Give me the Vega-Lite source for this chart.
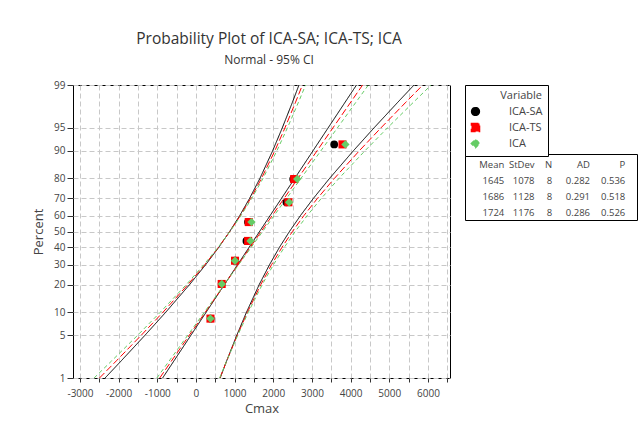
{
  "$schema": "https://vega.github.io/schema/vega-lite/v6.json",
  "autosize": {"type": "pad"},
  "padding": {"left": 32, "top": 32, "right": 0, "bottom": 0},
  "background": "white",
  "config": {
    "font": "Open Sans",
    "view": {"stroke": "black", "strokeWidth": 1},
    "axis": {"labelOverlap": false}
  },
  "title": {
    "text": "Probability Plot of ICA-SA; ICA-TS; ICA",
    "subtitle": "Normal - 95% CI",
    "anchor": "start",
    "align": "center",
    "frame": "group",
    "dx": 196,
    "offset": 14,
    "fontSize": 15.5,
    "fontWeight": "normal",
    "color": "#333333",
    "subtitleFontSize": 12,
    "subtitleColor": "#333333",
    "subtitlePadding": 7
  },
  "datasets": {
    "points": [
      {"Variable": "ICA-SA", "p": 8.33, "Cmax": 380},
      {"Variable": "ICA-SA", "p": 20.24, "Cmax": 665},
      {"Variable": "ICA-SA", "p": 32.14, "Cmax": 1015},
      {"Variable": "ICA-SA", "p": 44.05, "Cmax": 1305},
      {"Variable": "ICA-SA", "p": 55.95, "Cmax": 1345},
      {"Variable": "ICA-SA", "p": 67.86, "Cmax": 2340},
      {"Variable": "ICA-SA", "p": 79.76, "Cmax": 2515},
      {"Variable": "ICA-SA", "p": 91.67, "Cmax": 3575},
      {"Variable": "ICA-TS", "p": 8.33, "Cmax": 375},
      {"Variable": "ICA-TS", "p": 20.24, "Cmax": 665},
      {"Variable": "ICA-TS", "p": 32.14, "Cmax": 1010},
      {"Variable": "ICA-TS", "p": 44.05, "Cmax": 1350},
      {"Variable": "ICA-TS", "p": 55.95, "Cmax": 1365},
      {"Variable": "ICA-TS", "p": 67.86, "Cmax": 2390},
      {"Variable": "ICA-TS", "p": 79.76, "Cmax": 2540},
      {"Variable": "ICA-TS", "p": 91.67, "Cmax": 3790},
      {"Variable": "ICA", "p": 8.33, "Cmax": 375},
      {"Variable": "ICA", "p": 20.24, "Cmax": 670},
      {"Variable": "ICA", "p": 32.14, "Cmax": 1010},
      {"Variable": "ICA", "p": 44.05, "Cmax": 1410},
      {"Variable": "ICA", "p": 55.95, "Cmax": 1435},
      {"Variable": "ICA", "p": 67.86, "Cmax": 2410},
      {"Variable": "ICA", "p": 79.76, "Cmax": 2620},
      {"Variable": "ICA", "p": 91.67, "Cmax": 3865}
    ],
    "curves": [
      {"Variable": "ICA-SA", "part": "fit", "p": 1, "Cmax": -862},
      {"Variable": "ICA-SA", "part": "fit", "p": 99, "Cmax": 4152},
      {"Variable": "ICA-SA", "part": "lower", "p": 1, "Cmax": -2350},
      {"Variable": "ICA-SA", "part": "lower", "p": 2, "Cmax": -1932},
      {"Variable": "ICA-SA", "part": "lower", "p": 5, "Cmax": -1314},
      {"Variable": "ICA-SA", "part": "lower", "p": 10, "Cmax": -781},
      {"Variable": "ICA-SA", "part": "lower", "p": 20, "Cmax": -163},
      {"Variable": "ICA-SA", "part": "lower", "p": 30, "Cmax": 255},
      {"Variable": "ICA-SA", "part": "lower", "p": 40, "Cmax": 587},
      {"Variable": "ICA-SA", "part": "lower", "p": 50, "Cmax": 872},
      {"Variable": "ICA-SA", "part": "lower", "p": 60, "Cmax": 1133},
      {"Variable": "ICA-SA", "part": "lower", "p": 70, "Cmax": 1385},
      {"Variable": "ICA-SA", "part": "lower", "p": 80, "Cmax": 1653},
      {"Variable": "ICA-SA", "part": "lower", "p": 90, "Cmax": 1983},
      {"Variable": "ICA-SA", "part": "lower", "p": 95, "Cmax": 2232},
      {"Variable": "ICA-SA", "part": "lower", "p": 98, "Cmax": 2496},
      {"Variable": "ICA-SA", "part": "lower", "p": 99, "Cmax": 2664},
      {"Variable": "ICA-SA", "part": "upper", "p": 1, "Cmax": 626},
      {"Variable": "ICA-SA", "part": "upper", "p": 2, "Cmax": 794},
      {"Variable": "ICA-SA", "part": "upper", "p": 5, "Cmax": 1058},
      {"Variable": "ICA-SA", "part": "upper", "p": 10, "Cmax": 1307},
      {"Variable": "ICA-SA", "part": "upper", "p": 20, "Cmax": 1637},
      {"Variable": "ICA-SA", "part": "upper", "p": 30, "Cmax": 1905},
      {"Variable": "ICA-SA", "part": "upper", "p": 40, "Cmax": 2157},
      {"Variable": "ICA-SA", "part": "upper", "p": 50, "Cmax": 2418},
      {"Variable": "ICA-SA", "part": "upper", "p": 60, "Cmax": 2703},
      {"Variable": "ICA-SA", "part": "upper", "p": 70, "Cmax": 3035},
      {"Variable": "ICA-SA", "part": "upper", "p": 80, "Cmax": 3453},
      {"Variable": "ICA-SA", "part": "upper", "p": 90, "Cmax": 4071},
      {"Variable": "ICA-SA", "part": "upper", "p": 95, "Cmax": 4604},
      {"Variable": "ICA-SA", "part": "upper", "p": 98, "Cmax": 5222},
      {"Variable": "ICA-SA", "part": "upper", "p": 99, "Cmax": 5640},
      {"Variable": "ICA-TS", "part": "fit", "p": 1, "Cmax": -938},
      {"Variable": "ICA-TS", "part": "fit", "p": 99, "Cmax": 4310},
      {"Variable": "ICA-TS", "part": "lower", "p": 1, "Cmax": -2495},
      {"Variable": "ICA-TS", "part": "lower", "p": 2, "Cmax": -2058},
      {"Variable": "ICA-TS", "part": "lower", "p": 5, "Cmax": -1411},
      {"Variable": "ICA-TS", "part": "lower", "p": 10, "Cmax": -852},
      {"Variable": "ICA-TS", "part": "lower", "p": 20, "Cmax": -206},
      {"Variable": "ICA-TS", "part": "lower", "p": 30, "Cmax": 232},
      {"Variable": "ICA-TS", "part": "lower", "p": 40, "Cmax": 579},
      {"Variable": "ICA-TS", "part": "lower", "p": 50, "Cmax": 877},
      {"Variable": "ICA-TS", "part": "lower", "p": 60, "Cmax": 1149},
      {"Variable": "ICA-TS", "part": "lower", "p": 70, "Cmax": 1414},
      {"Variable": "ICA-TS", "part": "lower", "p": 80, "Cmax": 1694},
      {"Variable": "ICA-TS", "part": "lower", "p": 90, "Cmax": 2040},
      {"Variable": "ICA-TS", "part": "lower", "p": 95, "Cmax": 2301},
      {"Variable": "ICA-TS", "part": "lower", "p": 98, "Cmax": 2576},
      {"Variable": "ICA-TS", "part": "lower", "p": 99, "Cmax": 2753},
      {"Variable": "ICA-TS", "part": "upper", "p": 1, "Cmax": 619},
      {"Variable": "ICA-TS", "part": "upper", "p": 2, "Cmax": 796},
      {"Variable": "ICA-TS", "part": "upper", "p": 5, "Cmax": 1071},
      {"Variable": "ICA-TS", "part": "upper", "p": 10, "Cmax": 1332},
      {"Variable": "ICA-TS", "part": "upper", "p": 20, "Cmax": 1678},
      {"Variable": "ICA-TS", "part": "upper", "p": 30, "Cmax": 1958},
      {"Variable": "ICA-TS", "part": "upper", "p": 40, "Cmax": 2223},
      {"Variable": "ICA-TS", "part": "upper", "p": 50, "Cmax": 2495},
      {"Variable": "ICA-TS", "part": "upper", "p": 60, "Cmax": 2793},
      {"Variable": "ICA-TS", "part": "upper", "p": 70, "Cmax": 3140},
      {"Variable": "ICA-TS", "part": "upper", "p": 80, "Cmax": 3578},
      {"Variable": "ICA-TS", "part": "upper", "p": 90, "Cmax": 4224},
      {"Variable": "ICA-TS", "part": "upper", "p": 95, "Cmax": 4783},
      {"Variable": "ICA-TS", "part": "upper", "p": 98, "Cmax": 5430},
      {"Variable": "ICA-TS", "part": "upper", "p": 99, "Cmax": 5867},
      {"Variable": "ICA", "part": "fit", "p": 1, "Cmax": -1011},
      {"Variable": "ICA", "part": "fit", "p": 99, "Cmax": 4459},
      {"Variable": "ICA", "part": "lower", "p": 1, "Cmax": -2635},
      {"Variable": "ICA", "part": "lower", "p": 2, "Cmax": -2179},
      {"Variable": "ICA", "part": "lower", "p": 5, "Cmax": -1504},
      {"Variable": "ICA", "part": "lower", "p": 10, "Cmax": -922},
      {"Variable": "ICA", "part": "lower", "p": 20, "Cmax": -248},
      {"Variable": "ICA", "part": "lower", "p": 30, "Cmax": 208},
      {"Variable": "ICA", "part": "lower", "p": 40, "Cmax": 570},
      {"Variable": "ICA", "part": "lower", "p": 50, "Cmax": 881},
      {"Variable": "ICA", "part": "lower", "p": 60, "Cmax": 1165},
      {"Variable": "ICA", "part": "lower", "p": 70, "Cmax": 1441},
      {"Variable": "ICA", "part": "lower", "p": 80, "Cmax": 1733},
      {"Variable": "ICA", "part": "lower", "p": 90, "Cmax": 2093},
      {"Variable": "ICA", "part": "lower", "p": 95, "Cmax": 2365},
      {"Variable": "ICA", "part": "lower", "p": 98, "Cmax": 2652},
      {"Variable": "ICA", "part": "lower", "p": 99, "Cmax": 2836},
      {"Variable": "ICA", "part": "upper", "p": 1, "Cmax": 612},
      {"Variable": "ICA", "part": "upper", "p": 2, "Cmax": 796},
      {"Variable": "ICA", "part": "upper", "p": 5, "Cmax": 1083},
      {"Variable": "ICA", "part": "upper", "p": 10, "Cmax": 1355},
      {"Variable": "ICA", "part": "upper", "p": 20, "Cmax": 1715},
      {"Variable": "ICA", "part": "upper", "p": 30, "Cmax": 2007},
      {"Variable": "ICA", "part": "upper", "p": 40, "Cmax": 2283},
      {"Variable": "ICA", "part": "upper", "p": 50, "Cmax": 2567},
      {"Variable": "ICA", "part": "upper", "p": 60, "Cmax": 2878},
      {"Variable": "ICA", "part": "upper", "p": 70, "Cmax": 3240},
      {"Variable": "ICA", "part": "upper", "p": 80, "Cmax": 3696},
      {"Variable": "ICA", "part": "upper", "p": 90, "Cmax": 4370},
      {"Variable": "ICA", "part": "upper", "p": 95, "Cmax": 4952},
      {"Variable": "ICA", "part": "upper", "p": 98, "Cmax": 5627},
      {"Variable": "ICA", "part": "upper", "p": 99, "Cmax": 6083}
    ],
    "stats": [
      {"Variable": "ICA-SA", "Mean": "1645", "StDev": "1078", "N": "8", "AD": "0.282", "P": "0.536"},
      {"Variable": "ICA-TS", "Mean": "1686", "StDev": "1128", "N": "8", "AD": "0.291", "P": "0.518"},
      {"Variable": "ICA", "Mean": "1724", "StDev": "1176", "N": "8", "AD": "0.286", "P": "0.526"}
    ]
  },
  "hconcat": [
    {
      "width": 377,
      "height": 293,
      "encoding": {
        "x": {
          "field": "Cmax", "type": "quantitative",
          "scale": {"domain": [-3180, 6570], "nice": false, "zero": false},
          "axis": {
            "title": "Cmax",
            "values": [-3000, -2500, -2000, -1500, -1000, -500, 0, 500, 1000, 1500, 2000, 2500, 3000, 3500, 4000, 4500, 5000, 5500, 6000, 6500],
            "labelExpr": "datum.value % 1000 === 0 ? '' + datum.value : ''",
            "labelOverlap": false,
            "grid": true, "gridDash": [5, 3], "gridColor": "#c8c8c8", "gridWidth": 1,
            "domain": false, "tickColor": "#333333", "tickSize": 4,
            "labelFont": "Open Sans", "labelFontSize": 10, "labelColor": "#444444", "labelPadding": 6,
            "titleFont": "Open Sans", "titleFontSize": 13, "titleFontWeight": "normal", "titleColor": "#444444", "titlePadding": 4
          }
        },
        "y": {
          "field": "z", "type": "quantitative",
          "scale": {"domain": [-2.326348, 2.326348], "nice": false, "zero": false},
          "axis": {
            "title": "Percent",
            "values": [-2.326348, -1.644854, -1.281552, -0.841621, -0.524401, -0.253347, 0, 0.253347, 0.524401, 0.841621, 1.281552, 1.644854, 2.326348],
            "labelExpr": "'' + round(cumulativeNormal(datum.value) * 100)",
            "labelOverlap": false,
            "grid": true, "gridDash": [5, 3], "gridColor": "#c8c8c8", "gridWidth": 1,
            "domain": false, "tickColor": "#333333", "tickSize": 6,
            "labelFont": "Open Sans", "labelFontSize": 10, "labelColor": "#444444", "labelPadding": 2,
            "titleFont": "Open Sans", "titleFontSize": 13, "titleFontWeight": "normal", "titleColor": "#444444", "titlePadding": 8
          }
        }
      },
      "layer": [
        {
          "data": {"name": "curves"},
          "transform": [
            {"calculate": "quantileNormal(datum.p / 100)", "as": "z"},
            {"calculate": "datum.Variable", "as": "Style"}
          ],
          "mark": {"type": "line", "strokeWidth": 1, "clip": true},
          "encoding": {
            "color": {
              "field": "Variable", "type": "nominal",
              "scale": {"domain": ["ICA-SA", "ICA-TS", "ICA"], "range": ["#000000", "#ff0000", "#66cc66"]},
              "legend": {
                "orient": "none", "legendX": 392, "legendY": 0,
                "title": "Variable", "titleFont": "Open Sans", "titleFontSize": 11, "titleFontWeight": "normal", "titleColor": "#444444", "titleAnchor": "end",
                "labelFont": "Open Sans", "labelFontSize": 11, "labelColor": "#444444", "labelOffset": 28,
                "strokeColor": "#000000", "fillColor": "white", "padding": 5, "rowPadding": 1,
                "symbolSize": 100, "symbolStrokeWidth": 1.5,
                "encode": {
                  "symbols": {
                    "update": {
                      "shape": {"signal": "datum.value === 'ICA-SA' ? 'M-1,0L5.4,0M1.4,0A0.8,0.8,0,1,1,3,0A0.8,0.8,0,1,1,1.4,0Z' : datum.value === 'ICA-TS' ? 'M-1,0L5.4,0M1.4,-0.8L3,-0.8L3,0.8L1.4,0.8Z' : 'M-1,0L5.4,0M1.2,0L2.2,-1L3.2,0L2.2,1Z'"},
                      "fill": {"signal": "datum.value === 'ICA-SA' ? '#000000' : datum.value === 'ICA-TS' ? '#ff0000' : '#66cc66'"},
                      "stroke": {"signal": "datum.value === 'ICA-SA' ? '#000000' : datum.value === 'ICA-TS' ? '#ff0000' : '#66cc66'"},
                      "strokeDash": {"signal": "datum.value === 'ICA' ? [4, 3] : [1, 0]"},
                      "strokeWidth": {"value": 1.5},
                      "opacity": {"value": 1}
                    }
                  }
                }
              }
            },
            "strokeDash": {
              "field": "Style", "type": "nominal",
              "scale": {"domain": ["ICA-SA", "ICA-TS", "ICA"], "range": [[1, 0], [7, 3], [4, 3]]},
              "legend": null
            },
            "detail": {"field": "part"},
            "order": {"field": "p", "type": "quantitative"}
          }
        },
        {
          "data": {"name": "points"},
          "transform": [
            {"calculate": "quantileNormal(datum.p / 100)", "as": "z"},
            {"calculate": "datum.Variable", "as": "Style"}
          ],
          "mark": {"type": "point", "filled": true, "opacity": 1},
          "encoding": {
            "color": {"field": "Variable", "type": "nominal"},
            "shape": {
              "field": "Style", "type": "nominal",
              "scale": {"domain": ["ICA-SA", "ICA-TS", "ICA"], "range": ["circle", "square", "diamond"]},
              "legend": null
            },
            "size": {
              "field": "Style", "type": "nominal",
              "scale": {"domain": ["ICA-SA", "ICA-TS", "ICA"], "range": [60, 70, 100]},
              "legend": null
            }
          }
        }
      ]
    },
    {
      "vconcat": [
        {
          "width": 172,
          "height": 69,
          "view": {"stroke": null},
          "data": {"values": [{"t": ""}]},
          "mark": {"type": "text"},
          "encoding": {"text": {"field": "t"}}
        },
        {
          "width": 172,
          "height": 66,
          "view": {"stroke": "#000000", "strokeWidth": 1},
          "data": {"name": "stats"},
          "transform": [{"fold": ["Mean", "StDev", "N", "AD", "P"], "as": ["col", "val"]}],
          "encoding": {
            "x": {"field": "col", "type": "nominal", "scale": {"type": "point", "domain": ["Mean", "StDev", "N", "AD", "P"], "padding": 0.843, "align": 0.77}, "axis": null},
            "y": {"field": "Variable", "type": "nominal", "scale": {"type": "point", "domain": ["hdr", "ICA-SA", "ICA-TS", "ICA"], "padding": 0.575, "align": 0.6}, "axis": null}
          },
          "layer": [
            {
              "transform": [{"filter": "datum.Variable === 'ICA-SA' && (datum.col === 'Mean' || datum.col === 'StDev' || datum.col === 'P')"}],
              "mark": {"type": "text", "align": "right", "baseline": "middle", "font": "Open Sans", "fontSize": 9.5, "color": "#444444"},
              "encoding": {"y": {"datum": "hdr", "type": "nominal"}, "text": {"field": "col"}}
            },
            {
              "transform": [{"filter": "datum.Variable === 'ICA-SA' && datum.col === 'N'"}],
              "mark": {"type": "text", "align": "right", "baseline": "middle", "font": "Open Sans", "fontSize": 9.5, "color": "#444444", "dx": -12.5},
              "encoding": {"y": {"datum": "hdr", "type": "nominal"}, "text": {"field": "col"}}
            },
            {
              "transform": [{"filter": "datum.Variable === 'ICA-SA' && datum.col === 'AD'"}],
              "mark": {"type": "text", "align": "right", "baseline": "middle", "font": "Open Sans", "fontSize": 9.5, "color": "#444444", "dx": -5},
              "encoding": {"y": {"datum": "hdr", "type": "nominal"}, "text": {"field": "col"}}
            },
            {
              "transform": [{"filter": "datum.col === 'Mean' || datum.col === 'StDev' || datum.col === 'P'"}],
              "mark": {"type": "text", "align": "right", "baseline": "middle", "font": "Open Sans", "fontSize": 9.5, "color": "#444444"},
              "encoding": {"text": {"field": "val"}}
            },
            {
              "transform": [{"filter": "datum.col === 'N'"}],
              "mark": {"type": "text", "align": "right", "baseline": "middle", "font": "Open Sans", "fontSize": 9.5, "color": "#444444", "dx": -12.5},
              "encoding": {"text": {"field": "val"}}
            },
            {
              "transform": [{"filter": "datum.col === 'AD'"}],
              "mark": {"type": "text", "align": "right", "baseline": "middle", "font": "Open Sans", "fontSize": 9.5, "color": "#444444", "dx": -5},
              "encoding": {"text": {"field": "val"}}
            }
          ]
        }
      ],
      "spacing": 0,
      "bounds": "flush"
    }
  ],
  "spacing": 15,
  "bounds": "flush"
}
